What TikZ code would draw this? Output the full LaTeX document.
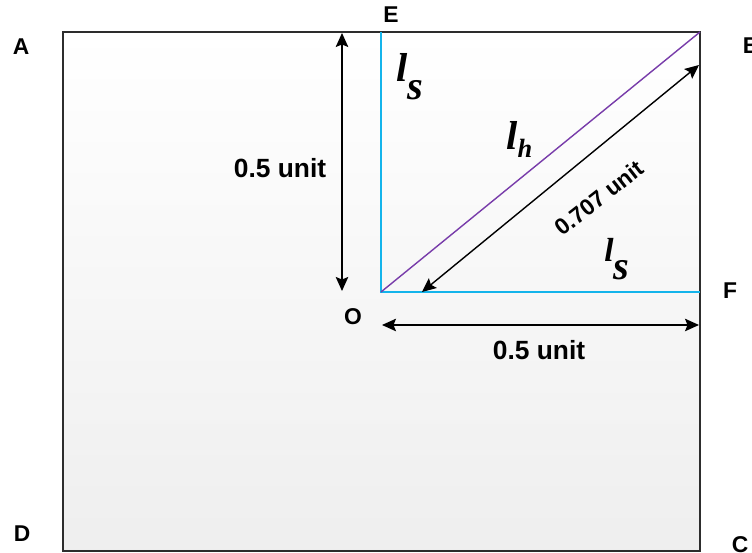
\documentclass[tikz,border=0pt]{standalone}
\usepackage{fontspec}
\setmainfont{Liberation Sans}
\newfontfamily\symfont{Liberation Serif}
\usetikzlibrary{arrows.meta,positioning,calc}
\definecolor{sidecyan}{RGB}{20,180,235}
\definecolor{hypviolet}{RGB}{120,60,170}
\definecolor{frameline}{RGB}{45,45,45}
\tikzset{
  >={Stealth[length=2.8mm,width=2.5mm,inset=0.5mm]},
  corner/.style={font=\fontsize{13}{13}\selectfont\bfseries, inner sep=0pt},
  dimlabel/.style={font=\fontsize{#1}{#1}\selectfont\bfseries, inner sep=0pt},
  sym/.style={font=\fontsize{#1}{#1}\selectfont\symfont\bfseries\itshape, inner sep=0pt, anchor=base west},
  side/.style={draw=sidecyan, line width=1.2pt},
  hyp/.style={draw=hypviolet, line width=0.8pt},
  dimline/.style={<->, line width=0.8pt},
}
\begin{document}
\begin{tikzpicture}[x=0.02cm, y=-0.02cm]
  \useasboundingbox (0,0) rectangle (752,553);
  % square ABCD
  \coordinate (A) at (63,32);
  \coordinate (B) at (700,32);
  \coordinate (C) at (700,551);
  \coordinate (D) at (63,551);
  \coordinate (O) at (381,292);
  \coordinate (E) at (381,32);
  \coordinate (F) at (700,292);
  \shade[top color=white, bottom color=gray!13] (A) rectangle (C);
  \draw[frameline, line width=1.1pt] (A) -- (B) -- (C) -- (D) -- cycle;

  \draw[side] (E) -- (O) -- (F);
  \draw[hyp] (O) -- (B);

  % dimension arrows
  \coordinate (v1) at (342,33);
  \coordinate (v2) at (342,291);
  \coordinate (h1) at (382,325);
  \coordinate (h2) at (699,325);
  \coordinate (d1) at (422,292);
  \coordinate (d2) at (699,65);
  \draw[dimline] (v1) -- (v2);
  \draw[dimline] (h1) -- (h2);
  \draw[dimline] (d1) -- (d2);
  \node[dimlabel=15] (vlab) at (280,168) {0.5 unit};
  \node[dimlabel=15] (hlab) at (539,350) {0.5 unit};
  \node[dimlabel=13, rotate=38] (dlab) at (599,198) {0.707 unit};

  % point labels
  \node[corner] (lA) at (21,47)  {A};
  \node[corner] (lB) at (751,46) {B};
  \node[corner] (lC) at (740,545){C};
  \node[corner] (lD) at (22,534) {D};
  \node[corner] (lE) at (391,15) {E};
  \node[corner] (lF) at (730,291){F};
  \node[corner] (lO) at (353,317){O};

  % side names
  \node[sym=23] (ls1) at (396,82)  {l\raisebox{-10pt}{s}};
  \node[sym=23] (lh)  at (506,150) {l\raisebox{-4pt}{\fontsize{15}{15}\selectfont h}};
  \node[sym=19] (ls2) at (604,262) {l\raisebox{-10pt}{\fontsize{23}{23}\selectfont s}};
\end{tikzpicture}
\end{document}
